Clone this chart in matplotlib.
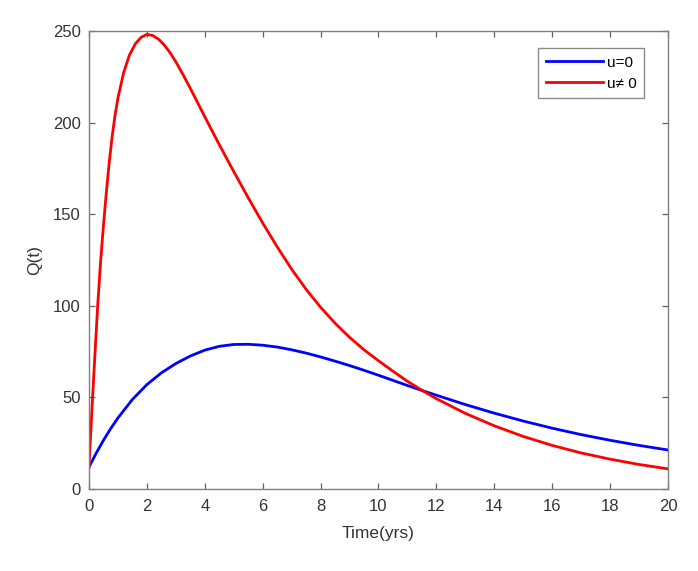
import matplotlib
matplotlib.use("Agg")
import matplotlib.pyplot as plt

plt.rcParams['font.family'] = ['Liberation Sans', 'DejaVu Sans']

# Q(t), u = 0
t_blue = [0, 0.25, 0.5, 0.75, 1, 1.5, 2, 2.5, 3, 3.5, 4, 4.5, 5, 5.5, 6, 6.5, 7,
          7.5, 8, 8.5, 9, 9.5, 10, 10.5, 11, 11.5, 12, 13, 14, 15, 16, 17, 18, 19, 20]
q_blue = [12, 19.6, 26.6, 33, 38.8, 48.9, 57, 63.4, 68.5, 72.6, 75.8, 77.9, 78.9, 79.0, 78.5, 77.5, 76.0,
          74.2, 72.1, 69.8, 67.4, 64.8, 62.1, 59.3, 56.5, 53.8, 51.2, 46.1, 41.4, 37.1, 33.2, 29.7, 26.6, 23.8, 21.3]

# Q(t), u != 0
t_red = [0, 0.1, 0.2, 0.3, 0.4, 0.5, 0.6, 0.7, 0.8, 0.9, 1.0, 1.2, 1.4, 1.6, 1.8, 2.0,
         2.2, 2.4, 2.6, 2.8, 3.0, 3.25, 3.5, 3.75, 4.0, 4.5, 5.0, 5.5, 6.0, 6.5, 7.0, 7.5,
         8.0, 8.5, 9.0, 9.5, 10, 10.5, 11, 11.5, 12, 13, 14, 15, 16, 17, 18, 19, 20]
q_red = [12, 43, 72, 100, 124, 144, 162, 178.5, 192.5, 204, 213.5, 227.5, 237, 243, 246.6, 248.2,
         247.6, 245.6, 242.4, 238.2, 233.2, 226.2, 218.7, 211, 203.2, 188, 173.3, 159, 145.2, 132.2, 120, 109,
         99.2, 90.5, 82.8, 76, 70, 64.3, 58.8, 53.9, 49.3, 41.3, 34.5, 28.7, 23.8, 19.7, 16.3, 13.4, 11]

labels = ['u=0', 'u\u2260 0']

fig = plt.figure(figsize=(6.98, 5.71), dpi=100)
ax = fig.add_axes([0.1275, 0.1436, 0.8295, 0.802])

ax.plot(t_blue, q_blue, color=(0, 0, 1), lw=2, label=labels[0])
ax.plot(t_red, q_red, color=(1, 0, 0), lw=2, label=labels[1])

ax.set_xlim(0, 20)
ax.set_ylim(0, 250)
ax.set_xticks(range(0, 21, 2))
ax.set_yticks(range(0, 251, 50))

txt = '#333333'
for sp in ax.spines.values():
    sp.set_color('#7f7f7f')
    sp.set_linewidth(1.0)
ax.tick_params(direction='in', top=True, right=True, length=4.3, width=0.9,
               color='#606060', labelsize=12, labelcolor=txt)
ax.tick_params(axis='x', pad=7)
ax.tick_params(axis='y', pad=6)

ax.set_xlabel('Time(yrs)', fontsize=12.5, color=txt, labelpad=9)
ax.set_ylabel('Q(t)', fontsize=12.5, color=txt, labelpad=8)

leg = ax.legend(loc='upper left', bbox_to_anchor=(538 / 698, 1 - 48 / 571),
                bbox_transform=fig.transFigure, borderaxespad=0,
                fontsize=11, handlelength=3.75, handletextpad=0.25, borderpad=0.5,
                fancybox=False, framealpha=1, labelspacing=0.45)
leg.get_frame().set_edgecolor('#8a8a8a')
leg.get_frame().set_linewidth(1.0)

fig.savefig('out.png', dpi=100)
